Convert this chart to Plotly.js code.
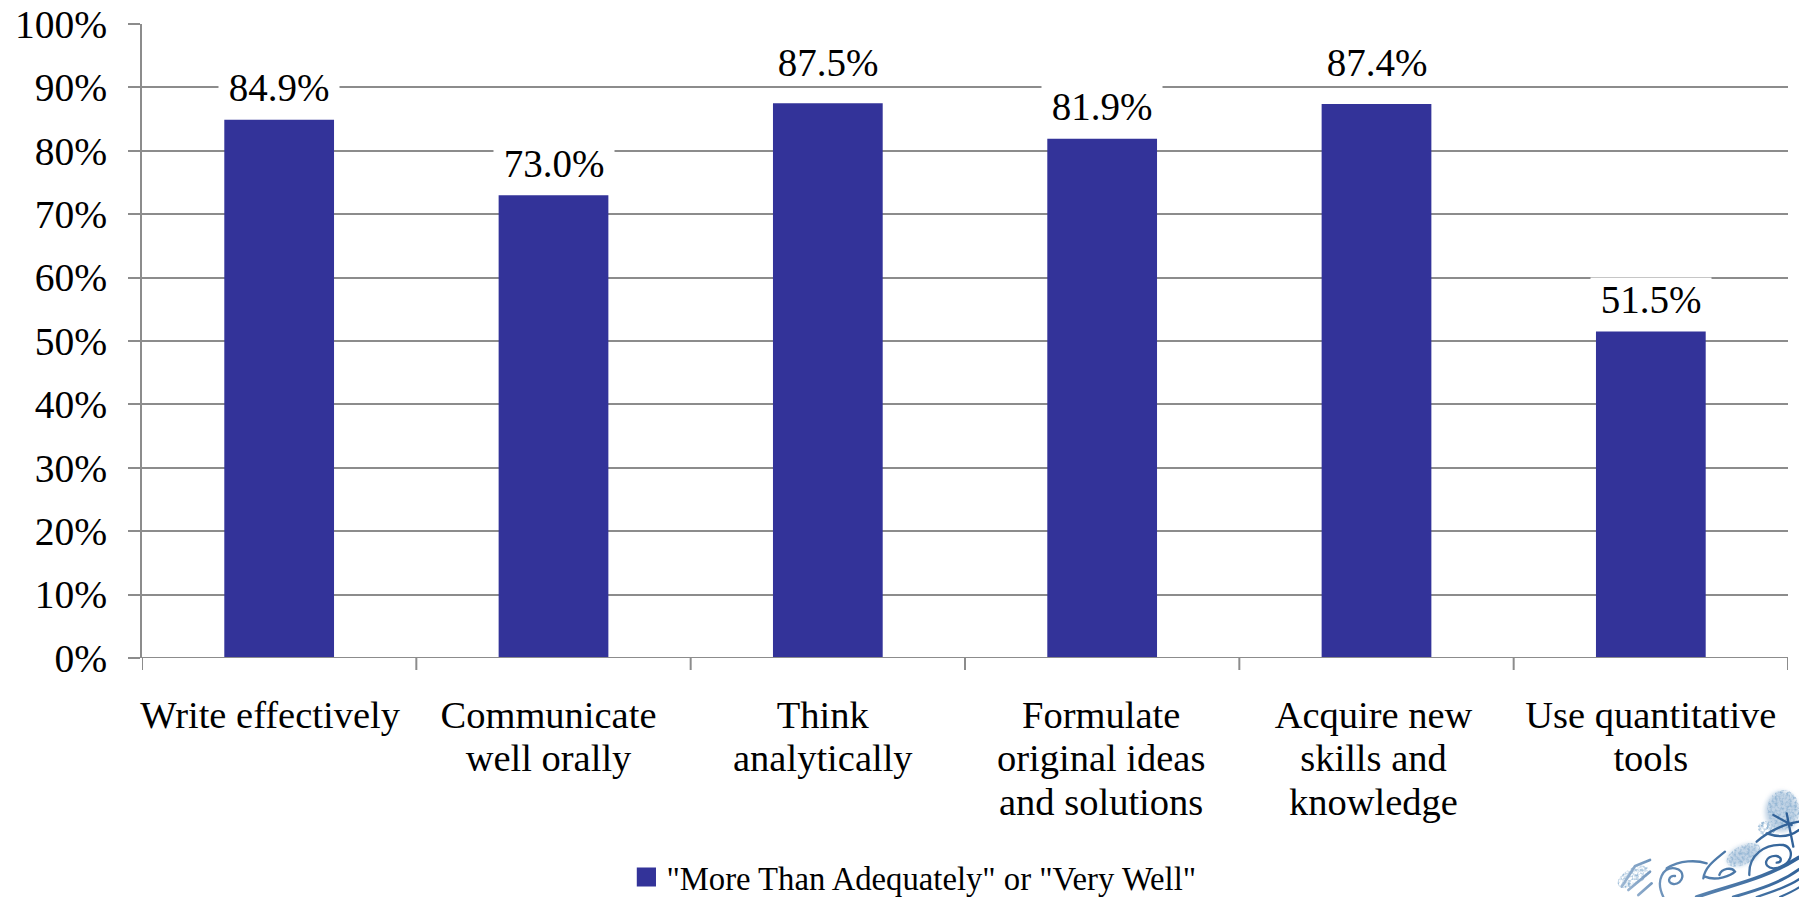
<!DOCTYPE html>
<html><head><meta charset="utf-8">
<script src="https://cdn.plot.ly/plotly-3.0.1.min.js"></script>
<style>html,body{margin:0;padding:0;background:#fff}#c{width:1799px;height:897px}</style></head>
<body><div id="c"></div>
<script>
const categories=["Write effectively","Communicate<br>well orally","Think<br>analytically","Formulate<br>original ideas<br>and solutions","Acquire new<br>skills and<br>knowledge","Use quantitative<br>tools"];
const values=[84.9,73.0,87.5,81.9,87.4,51.5];
const labels=["84.9%","73.0%","87.5%","81.9%","87.4%","51.5%"];
const seriesName='"More Than Adequately" or "Very Well"';
const font='"Liberation Serif",serif';
const tickNudge=[-9,-5,-5,-1,-3,0];
const logo=`<svg xmlns="http://www.w3.org/2000/svg" width="597" height="351" viewBox="0 0 597 351">
<defs><linearGradient id="g" gradientUnits="userSpaceOnUse" x1="40" y1="340" x2="597" y2="150"><stop offset="0" stop-color="#a9c0d9"/><stop offset=".3" stop-color="#5f88b3"/><stop offset="1" stop-color="#2d5f96"/></linearGradient>
<filter id="b"><feGaussianBlur stdDeviation="1"/></filter><filter id="s"><feGaussianBlur stdDeviation="6"/></filter>
<filter id="t"><feTurbulence type="fractalNoise" baseFrequency=".12" numOctaves="2" seed="4"/><feColorMatrix values="0 0 0 0 .3 0 0 0 0 .47 0 0 0 0 .66 2.6 0 0 0 -1"/><feComposite in2="SourceAlpha" operator="in"/></filter></defs>
<g filter="url(#s)" fill="#8fb0d0" opacity=".55"><ellipse cx="545" cy="95" rx="50" ry="62"/><ellipse cx="430" cy="225" rx="52" ry="28" transform="rotate(-25 430 225)"/></g>
<g filter="url(#t)" fill="#000"><ellipse cx="550" cy="90" rx="48" ry="60"/><ellipse cx="500" cy="145" rx="28" ry="22"/><ellipse cx="430" cy="225" rx="55" ry="28" transform="rotate(-28 430 225)"/><ellipse cx="100" cy="290" rx="52" ry="26" transform="rotate(-30 100 290)"/></g>
<g filter="url(#b)" fill="none" stroke="url(#g)" stroke-width="7" stroke-linecap="round">
<path d="M65 320 L105 258 L150 240 M85 330 L150 275 M115 345 L155 310" stroke-width="8"/>
<path d="M190 351 C165 300 190 260 225 265 C260 270 250 315 220 312 C200 310 205 285 225 288" />
<path d="M200 265 C240 240 290 240 320 250"/>
<path d="M310 295 C315 260 345 240 375 215 M315 290 C350 305 395 285 405 275 C395 260 365 265 358 285"/>
<path d="M448 285 C445 225 495 190 550 195 C590 205 575 265 520 265 C485 262 495 225 530 228 C548 232 545 248 530 248"/>
<path d="M470 185 C510 150 560 130 597 125 M520 105 L575 135 M560 100 L580 200 M500 160 C540 175 570 170 597 150"/>
<path d="M290 351 C390 315 490 300 597 232" stroke-width="11"/>
<path d="M400 351 C470 330 540 310 597 268" stroke-width="9"/>
<path d="M470 351 C520 335 565 320 597 298" stroke-width="7"/>
<path d="M540 351 C565 340 585 330 597 322" stroke-width="6"/>
</g></svg>`;
const W=1799,H=897,L=142,R=11,T=24,B=239;
const pw=W-L-R,ph=H-T-B;
Plotly.newPlot('c',[{type:'bar',x:categories,y:values,name:seriesName,showlegend:true,marker:{color:'#333399'},width:0.4,hoverinfo:'x+y'}],{
 width:W,height:H,margin:{l:L,r:R,t:T,b:B},
 paper_bgcolor:'#fff',plot_bgcolor:'#fff',
 font:{family:font,color:'#000',size:38.5},
 bargap:0.6,
 xaxis:{type:'category',range:[-0.5,5.5],showgrid:false,zeroline:false,showline:false,ticks:'',tickfont:{size:38.5,family:font,color:'#000'},automargin:false,ticklabelstandoff:30},
 yaxis:{range:[0,100],tickvals:[0,10,20,30,40,50,60,70,80,90,100],ticktext:['0%','10%','20%','30%','40%','50%','60%','70%','80%','90%','100%'],showgrid:true,gridcolor:'#8c8c8c',gridwidth:2,zeroline:false,showline:true,linecolor:'#8c8c8c',linewidth:2,ticks:'outside',ticklen:12,tickcolor:'#8c8c8c',tickwidth:2,tickfont:{size:39.5,family:font,color:'#000'},automargin:false,ticklabelstandoff:13},
 annotations:values.map((v,i)=>({x:i,y:v,xref:'x',yref:'y',text:'\u00a0'+labels[i]+'\u00a0',showarrow:false,yanchor:'middle',yshift:v>=87?41:32,font:{size:39,family:font,color:'#000'},bgcolor:v>=87?'rgba(0,0,0,0)':'#fff',borderpad:0})),
 shapes:[0,1,2,3,4,5,6].map(i=>({type:'line',xref:'x',yref:'paper',x0:i-0.5,x1:i-0.5,y0:0,y1:-12/ph,line:{color:'#8c8c8c',width:2}})).concat([{type:'line',xref:'paper',yref:'y',x0:0,x1:1,y0:0,y1:0,line:{color:'#8c8c8c',width:2}}]),
 legend:{orientation:'h',x:0.508,xref:'container',xanchor:'center',y:0.022,yref:'container',yanchor:'middle',font:{size:32.7,family:font,color:'#000'},itemwidth:30,bgcolor:'rgba(0,0,0,0)'},
 images:[{source:'data:image/svg+xml;utf8,'+encodeURIComponent(logo),xref:'paper',yref:'paper',xanchor:'left',yanchor:'top',x:(1600-L)/pw,y:1-(780-T)/ph,sizex:199/pw,sizey:117/ph,sizing:'stretch',layer:'below'}]
},{displayModeBar:false,staticPlot:true}).then(()=>{
 document.querySelectorAll('.xtick text tspan.line').forEach(t=>{const d=parseFloat(t.getAttribute('dy'));t.setAttribute('dy',(d*0.871)+'em');});
 document.querySelectorAll('.xtick text').forEach((t,i)=>{t.setAttribute('transform',(t.getAttribute('transform')||'')+' translate('+tickNudge[i]+',0)');});
 document.querySelectorAll('.legend .legendpoints path').forEach(p=>{p.setAttribute('transform',(p.getAttribute('transform')||'')+' scale(1.6)');});
});
</script></body></html>
